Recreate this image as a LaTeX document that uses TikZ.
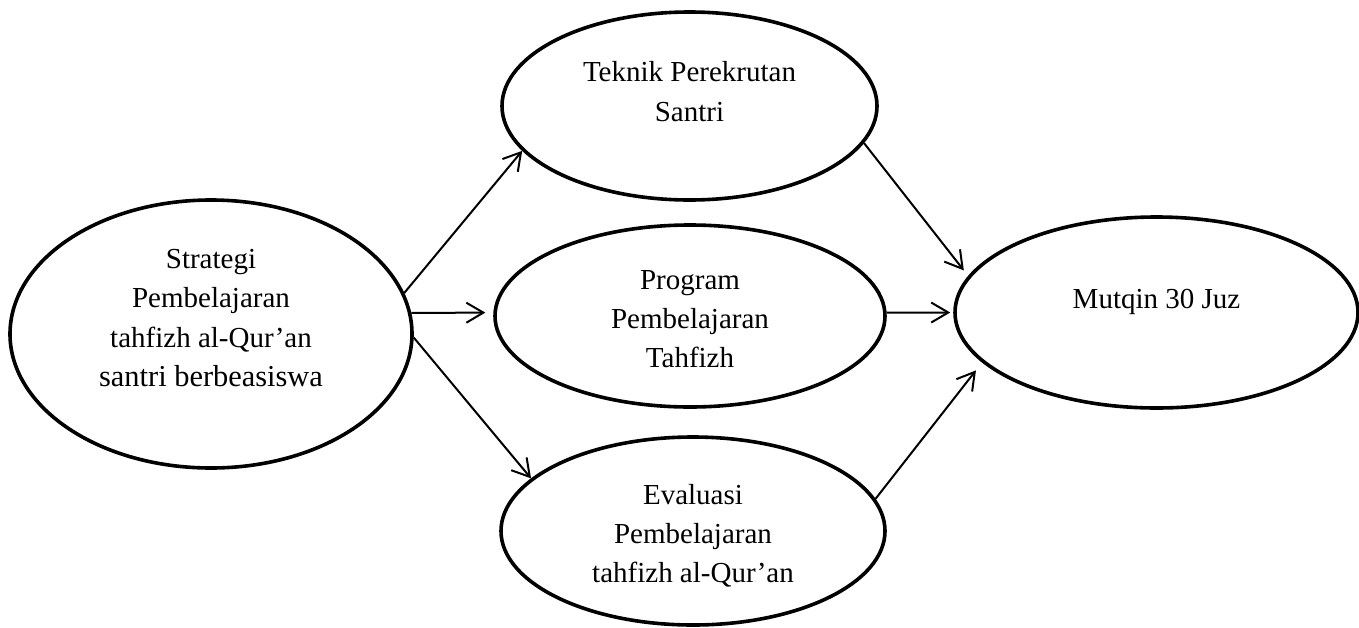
\documentclass[tikz,border=0pt]{standalone}
\usepackage{fontspec}
\setmainfont{Liberation Serif}
\usetikzlibrary{arrows.meta, shapes.geometric}

\begin{document}
\begin{tikzpicture}[x=0.5pt, y=-0.5pt,
  bubble/.style={ellipse, draw, line width=1.8pt, inner sep=0pt},
  caption/.style={align=center, inner sep=0pt, font=\fontsize{14.5}{19.6}\selectfont},
  link/.style={line width=1pt, -{Straight Barb[length=8.5pt, width=10pt]}},
]
\useasboundingbox (0,0) rectangle (1359,627);

\node[bubble, minimum width=201pt, minimum height=134pt] (strategi) at (211, 334) {};
\node[bubble, minimum width=187.5pt, minimum height=94pt] (teknik) at (689.5, 106) {};
\node[bubble, minimum width=195pt, minimum height=91pt] (program) at (690, 316) {};
\node[bubble, minimum width=192pt, minimum height=94pt] (evaluasi) at (693, 531) {};
\node[bubble, minimum width=201.5pt, minimum height=95.5pt] (mutqin) at (1156.5, 312.5) {};

\node[caption] (strategiTxt) at (211, 318) {Strategi\\ Pembelajaran\\ tahfizh al-Qur’an\\ {\fontsize{15.2}{19.6}\selectfont santri berbeasiswa}};
\node[caption] (teknikTxt) at (689.5, 91.5) {Teknik Perekrutan\\ Santri};
\node[caption] (programTxt) at (690, 319) {Program\\ Pembelajaran\\ Tahfizh};
\node[caption] (evaluasiTxt) at (693, 536) {Evaluasi\\ Pembelajaran\\ tahfizh al-Qur’an};
\node[caption] (mutqinTxt) at (1156.5, 301.5) {Mutqin 30 Juz};

\draw[link] (strategi.12) -- (teknik.195.6);
\draw[link, shorten >=4pt] (strategi.6) -- (program.179);
\draw[link] (strategi.-1) -- (evaluasi.162.3);
\draw[link, shorten >=3.5pt] (teknik.-12) -- (mutqin.169);
\draw[link, shorten >=1.5pt] (program.1) -- (mutqin.west);
\draw[link, shorten >=5pt] (evaluasi.10) -- (mutqin.196.4);

\end{tikzpicture}
\end{document}
